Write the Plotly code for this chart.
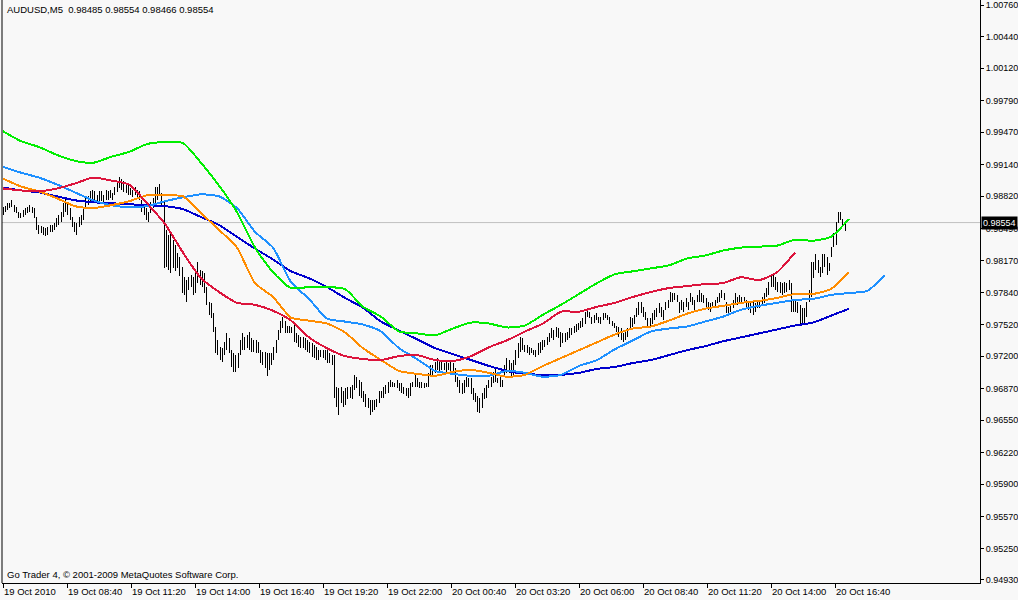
import plotly.graph_objects as go

# ---------------- data (prices in pips, 1 pip = 0.0001) ----------------
bar_high_pips = [
    9871, 9872, 9875, 9875, 9878, 9873, 9871, 9866, 9865, 9868,
    9870, 9871, 9873, 9871, 9870, 9861, 9853, 9852, 9851, 9850,
    9851, 9853, 9853, 9855, 9860, 9863, 9866, 9875, 9880, 9876,
    9870, 9861, 9856, 9855, 9861, 9863, 9870, 9880, 9882, 9887,
    9888, 9887, 9883, 9887, 9887, 9883, 9888, 9887, 9888, 9885,
    9891, 9896, 9902, 9900, 9898, 9896, 9893, 9890, 9888, 9891,
    9888, 9887, 9878, 9873, 9870, 9866, 9876, 9880, 9891, 9891,
    9895, 9885, 9876, 9848, 9843, 9845, 9838, 9833, 9825, 9820,
    9810, 9800, 9797, 9800, 9802, 9800, 9806, 9815, 9807, 9806,
    9804, 9790, 9775, 9774, 9764, 9749, 9736, 9729, 9728, 9734,
    9743, 9738, 9726, 9723, 9721, 9723, 9736, 9743, 9739, 9741,
    9744, 9738, 9736, 9736, 9734, 9726, 9724, 9724, 9723, 9723,
    9723, 9729, 9736, 9746, 9756,
    9760, 9756, 9751, 9751, 9749, 9753, 9743, 9741, 9739, 9739,
    9738, 9736, 9734, 9733, 9731, 9729, 9726, 9726, 9726, 9726,
    9726, 9723, 9721, 9721, 9689, 9688, 9689, 9685, 9688, 9689,
    9689, 9691, 9701, 9699, 9696, 9694, 9685, 9682, 9678, 9675,
    9675, 9675, 9677, 9685, 9685, 9689, 9691, 9694, 9696, 9694,
    9693, 9696, 9693, 9693, 9689, 9688, 9688, 9693, 9694, 9701,
    9698, 9694, 9694, 9693, 9693, 9703, 9711, 9711, 9714, 9718,
    9716, 9714, 9713, 9714, 9713, 9714, 9713, 9708, 9699, 9696,
    9693, 9696, 9699, 9698, 9698, 9688, 9683, 9680, 9678, 9683,
    9688, 9691, 9696, 9699, 9704, 9708, 9698, 9699, 9696, 9711,
    9718, 9716, 9713, 9716, 9726, 9733, 9739, 9738, 9731, 9731,
    9729, 9728, 9726, 9726, 9733, 9734, 9736, 9736, 9739, 9743,
    9748, 9746, 9749, 9748, 9744, 9743, 9743, 9744, 9748, 9748,
    9751, 9753, 9754, 9756, 9759, 9765, 9767, 9765, 9760, 9762,
    9764, 9760, 9760, 9764, 9764, 9762, 9760, 9756, 9754, 9751,
    9749, 9748, 9743, 9746, 9748, 9760, 9759, 9762, 9769, 9775,
    9775, 9770, 9765, 9759, 9759, 9764, 9767, 9769, 9774, 9770,
    9767, 9775, 9777, 9785, 9784, 9784, 9782, 9775, 9777, 9775,
    9779, 9775, 9784, 9780, 9777, 9782, 9787, 9784, 9782, 9779,
    9775, 9774, 9775, 9777, 9780, 9784, 9787, 9784, 9775, 9770,
    9772, 9777, 9784, 9780, 9782, 9780, 9780, 9777, 9775, 9774,
    9775, 9774, 9777, 9775, 9780, 9784, 9789, 9795, 9802, 9802,
    9800, 9795, 9795, 9794, 9795, 9794, 9797, 9794, 9777, 9777,
    9775, 9772, 9769, 9769, 9775, 9787, 9815, 9815, 9824, 9817,
    9810, 9824, 9824, 9820, 9814, 9831, 9845, 9856, 9866, 9866,
    9859, 9855,
]
bar_low_pips = [
    9863, 9866, 9868, 9870, 9871, 9866, 9865, 9860, 9860, 9861,
    9863, 9865, 9866, 9865, 9860, 9848, 9844, 9845, 9843, 9842,
    9843, 9846, 9846, 9848, 9851, 9853, 9856, 9861, 9866, 9863,
    9858, 9851, 9846, 9843, 9851, 9853, 9858, 9870, 9873, 9877,
    9878, 9877, 9875, 9877, 9877, 9875, 9878, 9878, 9880, 9878,
    9883, 9886, 9890, 9888, 9886, 9885, 9883, 9883, 9881, 9883,
    9880, 9878, 9866, 9863, 9858, 9856, 9865, 9870, 9871, 9878,
    9883, 9873, 9809, 9810, 9807, 9804, 9809, 9806, 9809, 9801,
    9784, 9782, 9775, 9787, 9790, 9782, 9784, 9794, 9792, 9790,
    9784, 9772, 9762, 9759, 9744, 9723, 9721, 9716, 9714, 9721,
    9726, 9723, 9709, 9704, 9704, 9708, 9721, 9726, 9726, 9728,
    9726, 9724, 9724, 9723, 9723, 9713, 9711, 9708, 9700, 9706,
    9711, 9716, 9723, 9736, 9743,
    9748, 9743, 9743, 9743, 9743, 9734, 9733, 9729, 9728, 9728,
    9726, 9724, 9723, 9719, 9718, 9716, 9716, 9719, 9718, 9716,
    9713, 9713, 9711, 9678, 9668, 9660, 9672, 9668, 9670, 9677,
    9678, 9677, 9686, 9688, 9680, 9678, 9673, 9668, 9667, 9660,
    9663, 9665, 9668, 9672, 9678, 9678, 9682, 9683, 9689, 9689,
    9689, 9688, 9685, 9683, 9682, 9680, 9678, 9680, 9689, 9689,
    9689, 9688, 9688, 9688, 9689, 9689, 9699, 9701, 9703, 9706,
    9704, 9706, 9706, 9703, 9706, 9704, 9703, 9694, 9689, 9683,
    9682, 9683, 9689, 9689, 9682, 9675, 9673, 9663, 9662, 9667,
    9677, 9678, 9688, 9689, 9693, 9694, 9693, 9689, 9689, 9699,
    9703, 9703, 9698, 9701, 9711, 9718, 9724, 9726, 9724, 9723,
    9721, 9723, 9721, 9719, 9721, 9723, 9726, 9729, 9731, 9734,
    9738, 9736, 9739, 9738, 9729, 9733, 9734, 9736, 9738, 9741,
    9743, 9744, 9746, 9748, 9749, 9753, 9760, 9759, 9753, 9754,
    9757, 9754, 9753, 9757, 9759, 9757, 9753, 9751, 9748, 9744,
    9739, 9736, 9734, 9736, 9739, 9748, 9749, 9753, 9760, 9762,
    9764, 9760, 9757, 9751, 9749, 9753, 9757, 9760, 9764, 9760,
    9757, 9767, 9769, 9775, 9775, 9777, 9775, 9764, 9767, 9765,
    9770, 9767, 9775, 9772, 9767, 9775, 9775, 9775, 9774, 9769,
    9767, 9765, 9769, 9770, 9774, 9775, 9779, 9777, 9764, 9764,
    9765, 9769, 9774, 9772, 9775, 9774, 9775, 9769, 9767, 9764,
    9762, 9765, 9769, 9769, 9772, 9774, 9780, 9782, 9790, 9790,
    9787, 9785, 9784, 9782, 9784, 9785, 9787, 9765, 9765, 9765,
    9764, 9753, 9754, 9754, 9760, 9775, 9780, 9799, 9807, 9804,
    9800, 9804, 9810, 9802, 9806, 9820, 9831, 9833, 9855, 9858,
    9851, 9847,
]

# moving averages, sampled at regular steps along the time axis
ma_green_pips = [
    9948, 9938, 9932, 9924, 9918, 9916, 9922, 9927, 9935, 9937,
    9936, 9916, 9893, 9866, 9830, 9805, 9789, 9790, 9790, 9788,
    9770, 9760, 9745, 9743, 9741, 9748, 9754, 9753, 9749, 9751,
    9762, 9772, 9783, 9794, 9803, 9806, 9809, 9812, 9819, 9822,
    9827, 9830, 9831, 9832, 9838, 9837, 9841, 9859,
]
ma_red_pips = [
    9890, 9888, 9887, 9890, 9895, 9901, 9898, 9894, 9875, 9854,
    9825, 9799, 9785, 9774, 9772, 9766, 9756, 9739, 9728, 9720,
    9717, 9716, 9720, 9721, 9716, 9715, 9720, 9729, 9736, 9745,
    9753, 9765, 9765, 9770, 9774, 9780, 9785, 9789, 9791, 9793,
    9794, 9800, 9797, 9805, 9825,
]
ma_orange_pips = [
    9900, 9892, 9887, 9880, 9872, 9870, 9873, 9877, 9883, 9883,
    9882, 9865, 9848, 9830, 9794, 9780, 9759, 9756, 9753, 9744,
    9728, 9716, 9705, 9702, 9700, 9704, 9706, 9703, 9699, 9701,
    9710, 9718, 9726, 9734, 9742, 9748, 9750, 9756, 9763, 9768,
    9771, 9774, 9776, 9779, 9783, 9783, 9788, 9805,
]
ma_lightblue_pips = [
    9912, 9906, 9901, 9894, 9886, 9878, 9873, 9871, 9872, 9877,
    9881, 9884, 9882, 9870, 9846, 9830, 9795, 9778, 9758, 9755,
    9752, 9745, 9728, 9717, 9705, 9702, 9700, 9700, 9705, 9703,
    9699, 9701, 9710, 9716, 9727, 9736, 9745, 9748, 9750, 9755,
    9760, 9767, 9771, 9774, 9777, 9778, 9782, 9784, 9786, 9802,
]
ma_darkblue_pips = [
    9891, 9888, 9886, 9882, 9878, 9876, 9875, 9874, 9873, 9872,
    9869, 9861, 9853, 9841, 9829, 9818, 9806, 9799, 9790, 9779,
    9769, 9755, 9746, 9737, 9728, 9722, 9716, 9710, 9705, 9702,
    9701, 9701, 9703, 9707, 9709, 9713, 9716, 9721, 9726, 9730,
    9735, 9739, 9743, 9747, 9751, 9754, 9761, 9768,
]

time_labels = [
    "19 Oct 2010", "19 Oct 08:40", "19 Oct 11:20", "19 Oct 14:00",
    "19 Oct 16:40", "19 Oct 19:20", "19 Oct 22:00", "20 Oct 00:40",
    "20 Oct 03:20", "20 Oct 06:00", "20 Oct 08:40", "20 Oct 11:20",
    "20 Oct 14:00", "20 Oct 16:40",
]
price_tick_labels = [
    "1.00760", "1.00440", "1.00120", "0.99790", "0.99470", "0.99140",
    "0.98820", "0.98490", "0.98170", "0.97840", "0.97520", "0.97200",
    "0.96870", "0.96550", "0.96220", "0.95900", "0.95570", "0.95250",
    "0.94930",
]
last_price = 0.98554
title_text = "AUDUSD,M5  0.98485 0.98554 0.98466 0.98554"
footer_text = "Go Trader 4, \u00a9 2001-2009 MetaQuotes Software Corp."

# ---------------- layout geometry ----------------
PIP = 1e-4
W, H = 1018, 600
ML, MR, MT, MB = 2, 38, 0, 17
plot_w = W - ML - MR
n_bars = len(bar_high_pips)
slot_px = 842.0 / (n_bars - 1)        # horizontal pixels per bar slot
ma_step_slots = 18.0 / slot_px        # MA sampling step
label_step_slots = 64.0 / slot_px     # time-label spacing

font = "Liberation Sans, Arial, sans-serif"
fsize = 9.5

# OHLC bars drawn as vertical high-low strokes
bx, by = [], []
for i, (h, l) in enumerate(zip(bar_high_pips, bar_low_pips)):
    bx += [i, i, None]
    by += [l * PIP, h * PIP, None]

fig = go.Figure()
fig.add_trace(go.Scatter(x=bx, y=by, mode="lines",
                         line=dict(color="#000000", width=1),
                         hoverinfo="skip", showlegend=False))


def ma_trace(vals, color):
    xs = [j * ma_step_slots for j in range(len(vals))]
    ys = [v * PIP for v in vals]
    return go.Scatter(x=xs, y=ys, mode="lines",
                      line=dict(color=color, width=2, shape="spline", smoothing=0.6),
                      hoverinfo="skip", showlegend=False)


fig.add_trace(ma_trace(ma_darkblue_pips, "#0000CD"))
fig.add_trace(ma_trace(ma_lightblue_pips, "#1E90FF"))
fig.add_trace(ma_trace(ma_orange_pips, "#FF8C00"))
fig.add_trace(ma_trace(ma_red_pips, "#DC143C"))
fig.add_trace(ma_trace(ma_green_pips, "#00EE00"))

tick_vals = [float(t) for t in price_tick_labels]
y_top = 1.00811
y_bot = 0.94899

fig.update_layout(
    width=W, height=H,
    margin=dict(l=ML, r=MR, t=MT, b=MB, pad=0, autoexpand=False),
    paper_bgcolor="#f8f8f8", plot_bgcolor="#f8f8f8",
    font=dict(family=font, size=fsize, color="#000000"),
    xaxis=dict(
        range=[-1.0 / slot_px, (plot_w - 1.0) / slot_px],
        tickvals=[k * label_step_slots for k in range(len(time_labels))],
        ticktext=time_labels,
        ticks="outside", ticklen=4, tickcolor="#000000", tickwidth=1,
        ticklabelposition="outside right",
        showline=True, linecolor="#000000", linewidth=1,
        showgrid=False, zeroline=False, fixedrange=True,
        tickfont=dict(family=font, size=fsize, color="#000000"),
    ),
    yaxis=dict(
        side="right", range=[y_bot, y_top],
        tickvals=tick_vals, ticktext=price_tick_labels,
        ticks="outside", ticklen=3, tickcolor="#000000", tickwidth=1,
        ticklabeloverflow="allow",
        showline=True, linecolor="#000000", linewidth=1,
        showgrid=False, zeroline=False, fixedrange=True,
        tickfont=dict(family=font, size=9, color="#000000"),
    ),
    shapes=[
        dict(type="line", xref="paper", yref="y", x0=0, x1=1,
             y0=last_price, y1=last_price,
             line=dict(color="#c0c0c0", width=1), layer="below"),
        dict(type="line", xref="paper", yref="paper", x0=0, x1=0, y0=0, y1=1,
             line=dict(color="#000000", width=1)),
    ],
    annotations=[
        dict(text=title_text, xref="paper", yref="paper", x=0, y=1,
             xanchor="left", yanchor="top", xshift=3, yshift=-2,
             showarrow=False, font=dict(family=font, size=fsize, color="#000000")),
        dict(text=footer_text, xref="paper", yref="paper", x=0, y=0,
             xanchor="left", yanchor="bottom", xshift=3, yshift=1,
             showarrow=False, font=dict(family=font, size=fsize, color="#000000")),
        dict(text=f"{last_price:.5f}", xref="paper", yref="y", x=1, y=last_price,
             xanchor="left", yanchor="middle", xshift=1,
             showarrow=False, bgcolor="#000000", borderpad=1,
             font=dict(family=font, size=9, color="#ffffff")),
    ],
    showlegend=False,
)

post = ("document.body.style.margin='0';"
        "document.body.style.background='#f8f8f8';"
        "document.querySelectorAll('.scatterlayer path.js-line')"
        ".forEach(function(p){p.style.shapeRendering='crispEdges';});")
fig.write_html("out.html", config={"displayModeBar": False}, post_script=post)
